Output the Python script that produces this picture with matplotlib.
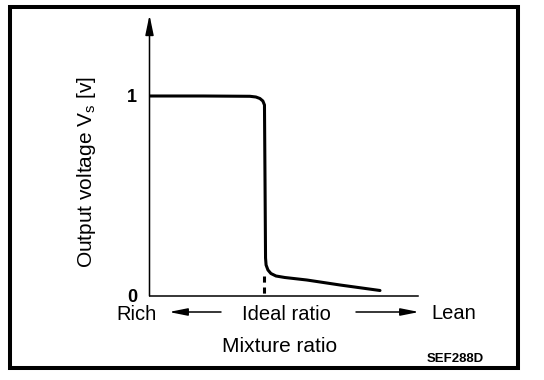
import matplotlib
matplotlib.use('Agg')
import matplotlib.pyplot as plt
from matplotlib.patches import Rectangle

plt.rcParams['font.family'] = ['Liberation Sans', 'DejaVu Sans']
plt.rcParams['mathtext.default'] = 'regular'

# mixture ratio (normalised, rich -> lean) and sensor output voltage [V]
mixture = [0.0, 0.20, 0.375, 0.397, 0.412, 0.423, 0.429, 0.431, 0.433,
           0.435, 0.442, 0.453, 0.472, 0.505, 0.587, 0.711, 0.860]
voltage = [1.0, 1.0, 0.9985, 0.995, 0.9875, 0.975, 0.955, 0.58, 0.19,
           0.155, 0.13, 0.1125, 0.10, 0.0925, 0.08, 0.055, 0.0275]
ideal_ratio = 0.429
ideal_voltage = 0.10
ytick_vals = [0, 1]
ytick_labels = ['0', '1']

W, H = 544, 380
fig = plt.figure(figsize=(W / 100, H / 100), dpi=100)
ax = fig.add_axes([149.5 / W, 1 - 296 / H, 268 / W, 281 / H])

ax.plot(mixture, voltage, color='k', lw=2.2, solid_capstyle='round',
        solid_joinstyle='round')
ax.plot([ideal_ratio, ideal_ratio], [ideal_voltage, 0], color='k', lw=2.2,
        dashes=(2.0, 1.6))

ax.set_xlim(0, 1)
ax.set_ylim(0, 1.405)
for s in ['top', 'right', 'left']:
    ax.spines[s].set_visible(False)
ax.spines['bottom'].set_linewidth(1.1)
ax.set_xticks([])
ax.set_yticks(ytick_vals)
ax.set_yticklabels(ytick_labels, fontsize=13, fontweight='bold')
ax.tick_params(axis='y', length=0, pad=9)

# y axis with arrow head
ax.annotate('', xy=(0, 1.405), xytext=(0, 0), annotation_clip=False,
            arrowprops=dict(arrowstyle='-|>,head_length=1.2,head_width=0.25',
                            lw=1.1, color='k', shrinkA=0, shrinkB=0))


def fx(px):
    return px / W


def fy(py):
    return 1 - py / H


fig.text(fx(86), fy(172), r'Output voltage V$_{s}$ [v]', rotation=90,
         ha='center', va='center', fontsize=15)
fig.text(fx(116), fy(320), 'Rich', ha='left', va='baseline', fontsize=14.5)
fig.text(fx(286), fy(320), 'Ideal ratio', ha='center', va='baseline', fontsize=14.5)
fig.text(fx(431), fy(319), 'Lean', ha='left', va='baseline', fontsize=14.5)
fig.text(fx(280), fy(352), 'Mixture ratio', ha='center', va='baseline', fontsize=15)
fig.text(fx(455), fy(362), 'SEF288D', ha='center', va='baseline', fontsize=9.5,
         fontweight='bold')

arrow = dict(arrowstyle='-|>,head_length=1.1,head_width=0.22', lw=1.1,
             color='k', shrinkA=0, shrinkB=0)
ax.annotate('', xy=(fx(169), fy(312)), xytext=(fx(221), fy(312)),
            xycoords='figure fraction', textcoords='figure fraction',
            arrowprops=arrow)
ax.annotate('', xy=(fx(419), fy(312)), xytext=(fx(356), fy(312)),
            xycoords='figure fraction', textcoords='figure fraction',
            arrowprops=arrow)

fig.add_artist(Rectangle((fx(10), fy(368)), (518 - 10) / W, (368 - 7) / H,
                         transform=fig.transFigure, fill=False, lw=2.9,
                         ec='k'))

fig.savefig('out.png', dpi=100)
